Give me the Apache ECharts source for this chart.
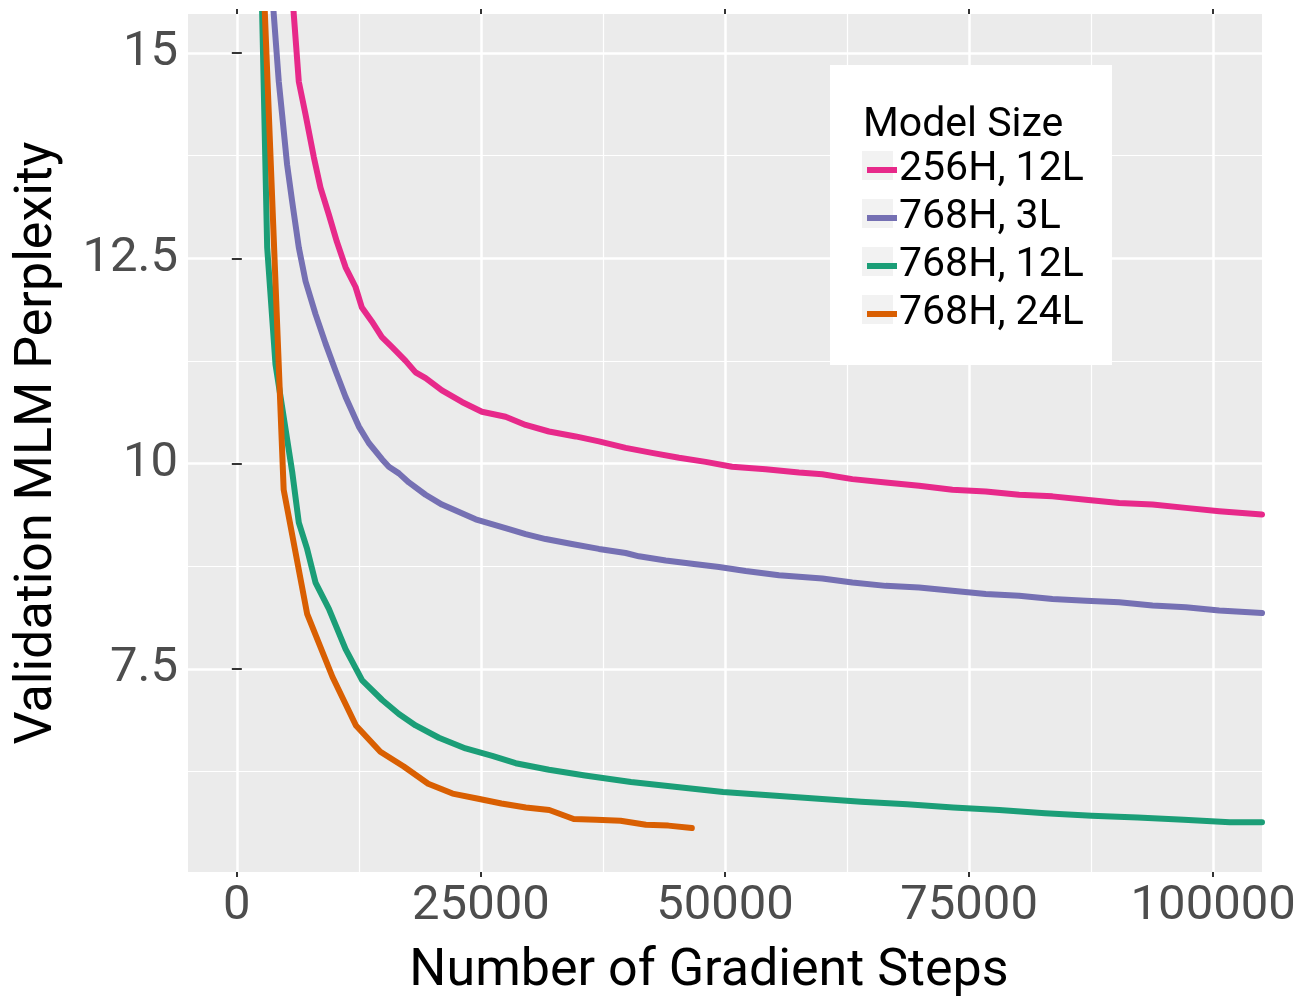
<!DOCTYPE html>
<html>
<head>
<meta charset="utf-8">
<script src="https://cdn.jsdelivr.net/npm/echarts@6/dist/echarts.min.js"></script>
<style>
  html, body { margin: 0; padding: 0; background: #ffffff; }
  #chart { width: 1304px; height: 1000px; }
</style>
</head>
<body>
<div id="chart"></div>
<script>
// ---- data -------------------------------------------------------------
const seriesNames = ['256H, 12L', '768H, 3L', '768H, 12L', '768H, 24L'];
const seriesColors = ['#E7298A', '#7570B3', '#1B9E77', '#D95F02'];

const steps256h12l = [5000, 5840, 6350, 7040, 7890, 8570, 9430, 10250, 11140, 12160, 12810, 13830, 14860, 15880, 17290, 18310, 19340, 21010, 23060, 25100, 27530, 29580, 31970, 34700, 37090, 39830, 42520, 45290, 48020, 50720, 54170, 57580, 59970, 63040, 66460, 69880, 73290, 76710, 80120, 83540, 86960, 90370, 93790, 97200, 100620, 105000];
const ppl256h12l   = [16.9, 15.46, 14.65, 14.25, 13.73, 13.36, 13.03, 12.7, 12.39, 12.15, 11.9, 11.73, 11.54, 11.42, 11.25, 11.11, 11.04, 10.89, 10.75, 10.63, 10.57, 10.47, 10.39, 10.33, 10.27, 10.19, 10.13, 10.07, 10.02, 9.96, 9.93, 9.89, 9.87, 9.81, 9.77, 9.73, 9.68, 9.66, 9.62, 9.6, 9.56, 9.52, 9.5, 9.46, 9.42, 9.38];

const steps768h3l = [3000, 3790, 4300, 4640, 5150, 5670, 6350, 7040, 8060, 9090, 10110, 11140, 12500, 13520, 14890, 15570, 16600, 17620, 19330, 21010, 24460, 27870, 29580, 31630, 34320, 37090, 39830, 41190, 43930, 46620, 49390, 52120, 55530, 59970, 63040, 66460, 69880, 73290, 76710, 80120, 83540, 86960, 90370, 93790, 97200, 100620, 105000];
const ppl768h3l   = [16.7, 15.46, 14.65, 14.25, 13.64, 13.19, 12.63, 12.22, 11.82, 11.46, 11.13, 10.81, 10.45, 10.25, 10.05, 9.96, 9.88, 9.77, 9.62, 9.5, 9.32, 9.2, 9.14, 9.08, 9.02, 8.96, 8.91, 8.87, 8.82, 8.78, 8.74, 8.69, 8.64, 8.6, 8.55, 8.51, 8.49, 8.45, 8.41, 8.39, 8.35, 8.33, 8.31, 8.27, 8.25, 8.21, 8.18];

const steps768h12l = [2300, 2600, 3110, 3960, 5670, 6350, 7200, 8060, 9430, 11140, 12840, 14890, 16600, 18310, 20700, 23430, 26160, 28560, 31970, 35660, 40370, 45080, 49800, 54510, 59220, 63940, 68650, 73360, 78080, 82790, 87550, 92260, 96990, 101700, 105000];
const ppl768h12l   = [17.1, 15.46, 12.63, 11.21, 9.9, 9.28, 8.96, 8.55, 8.23, 7.74, 7.36, 7.12, 6.95, 6.81, 6.66, 6.53, 6.44, 6.35, 6.27, 6.2, 6.12, 6.06, 6.0, 5.96, 5.92, 5.88, 5.85, 5.81, 5.78, 5.74, 5.71, 5.69, 5.66, 5.63, 5.63];

const steps768h24l = [2300, 4800, 7200, 9800, 12200, 14700, 17100, 19600, 22100, 24600, 27100, 29600, 32000, 34500, 36800, 39300, 41900, 44200, 46600];
const ppl768h24l   = [17.2, 9.68, 8.17, 7.4, 6.81, 6.49, 6.31, 6.1, 5.98, 5.92, 5.86, 5.81, 5.78, 5.67, 5.66, 5.65, 5.6, 5.59, 5.56];

const xTickValues  = [0, 25000, 50000, 75000, 100000];
const xMinorValues = [12500, 37500, 62500, 87500];
const yTickValues  = [7.5, 10, 12.5, 15];
const yMinorValues = [6.25, 8.75, 11.25, 13.75];

const xTitle = 'Number of Gradient Steps';
const yTitle = 'Validation MLM Perplexity';
const legendTitle = 'Model Size';

// ---- chart ------------------------------------------------------------
const FONT = 'Roboto, "Noto Sans", sans-serif';
const X_MIN = -5000, X_MAX = 105000;
const Y_MIN = 5.025, Y_MAX = 15.475;

const stepsList = [steps256h12l, steps768h3l, steps768h12l, steps768h24l];
const pplList = [ppl256h12l, ppl768h3l, ppl768h12l, ppl768h24l];

const tickStyle = { color: '#333333', width: 2 };

function plainAxis(extra) {
  return Object.assign({
    type: 'value',
    axisLine: { show: false },
    axisTick: { show: false },
    axisLabel: { show: false },
    splitLine: { show: false }
  }, extra);
}

const chart = echarts.init(document.getElementById('chart'), null, { renderer: 'canvas' });

const option = {
  animation: false,
  backgroundColor: '#ffffff',
  grid: {
    left: 188, right: 42, top: 14, bottom: 128,
    show: true, backgroundColor: '#EBEBEB', borderWidth: 0,
    containLabel: false, outerBoundsMode: 'none'
  },
  xAxis: [
    plainAxis({
      position: 'bottom', min: X_MIN, max: X_MAX,
      axisTick: { show: true, inside: false, length: 5, customValues: xTickValues, lineStyle: tickStyle },
      axisLabel: {
        show: true, customValues: xTickValues, margin: 10,
        formatter: v => String(v),
        fontFamily: FONT, fontSize: 49, color: '#4D4D4D'
      },
      splitLine: { show: true, lineStyle: { color: '#ffffff', width: 2.5 } },
      name: xTitle, nameLocation: 'middle', nameGap: 74,
      nameTextStyle: { fontFamily: FONT, fontSize: 52, color: '#000000', padding: [0, 32, 0, 0] }
    }),
    plainAxis({
      position: 'bottom', min: X_MIN, max: X_MAX,
      axisTick: { show: false, customValues: xMinorValues },
      splitLine: { show: true, lineStyle: { color: '#ffffff', width: 1.2 } }
    }),
    plainAxis({
      position: 'top', min: X_MIN, max: X_MAX,
      axisTick: { show: true, inside: false, length: 5, customValues: xTickValues, lineStyle: tickStyle }
    })
  ],
  yAxis: [
    plainAxis({
      position: 'left', min: Y_MIN, max: Y_MAX,
      axisTick: { show: true, inside: false, length: 5, customValues: yTickValues, lineStyle: tickStyle },
      axisLabel: {
        show: true, customValues: yTickValues, margin: 10,
        formatter: v => String(v),
        fontFamily: FONT, fontSize: 49, color: '#4D4D4D'
      },
      splitLine: { show: true, lineStyle: { color: '#ffffff', width: 2.5 } },
      name: yTitle, nameLocation: 'middle', nameGap: 124, nameRotate: 90,
      nameTextStyle: { fontFamily: FONT, fontSize: 52, color: '#000000' }
    }),
    plainAxis({
      position: 'left', min: Y_MIN, max: Y_MAX,
      axisTick: { show: false, customValues: yMinorValues },
      splitLine: { show: true, lineStyle: { color: '#ffffff', width: 1.2 } }
    }),
    plainAxis({
      position: 'right', min: Y_MIN, max: Y_MAX,
      axisTick: { show: true, inside: false, length: 5, customValues: yTickValues, lineStyle: tickStyle }
    })
  ],
  legend: {
    orient: 'vertical',
    left: 862, top: 141,
    itemWidth: 30, itemHeight: 6, itemGap: 0,
    icon: 'rect',
    selectedMode: false,
    z: 20,
    data: seriesNames,
    textStyle: { fontFamily: FONT, fontSize: 41, color: '#000000', lineHeight: 48, padding: [0, 0, 0, -3] }
  },
  graphic: [
    { type: 'rect', z: 10, shape: { x: 830, y: 65, width: 282, height: 300 }, style: { fill: '#ffffff' } },
    { type: 'text', z: 11, style: { x: 863, y: 126, text: legendTitle, font: '41px ' + FONT, fill: '#000000', verticalAlign: 'middle' } }
  ].concat(seriesNames.map((n, i) => ({
    type: 'rect', z: 11,
    shape: { x: 862, y: 151 + i * 48, width: 31, height: 29 },
    style: { fill: '#F2F2F2' }
  }))),
  series: seriesNames.map((name, i) => ({
    type: 'line',
    name: name,
    xAxisIndex: 0,
    yAxisIndex: 0,
    data: stepsList[i].map((s, j) => [s, pplList[i][j]]),
    showSymbol: false,
    symbol: 'none',
    clip: true,
    color: seriesColors[i],
    itemStyle: { color: seriesColors[i] },
    lineStyle: { width: 6, color: seriesColors[i], join: 'round', cap: 'round' },
    z: 2 + i
  }))
};

chart.setOption(option);
</script>
</body>
</html>
